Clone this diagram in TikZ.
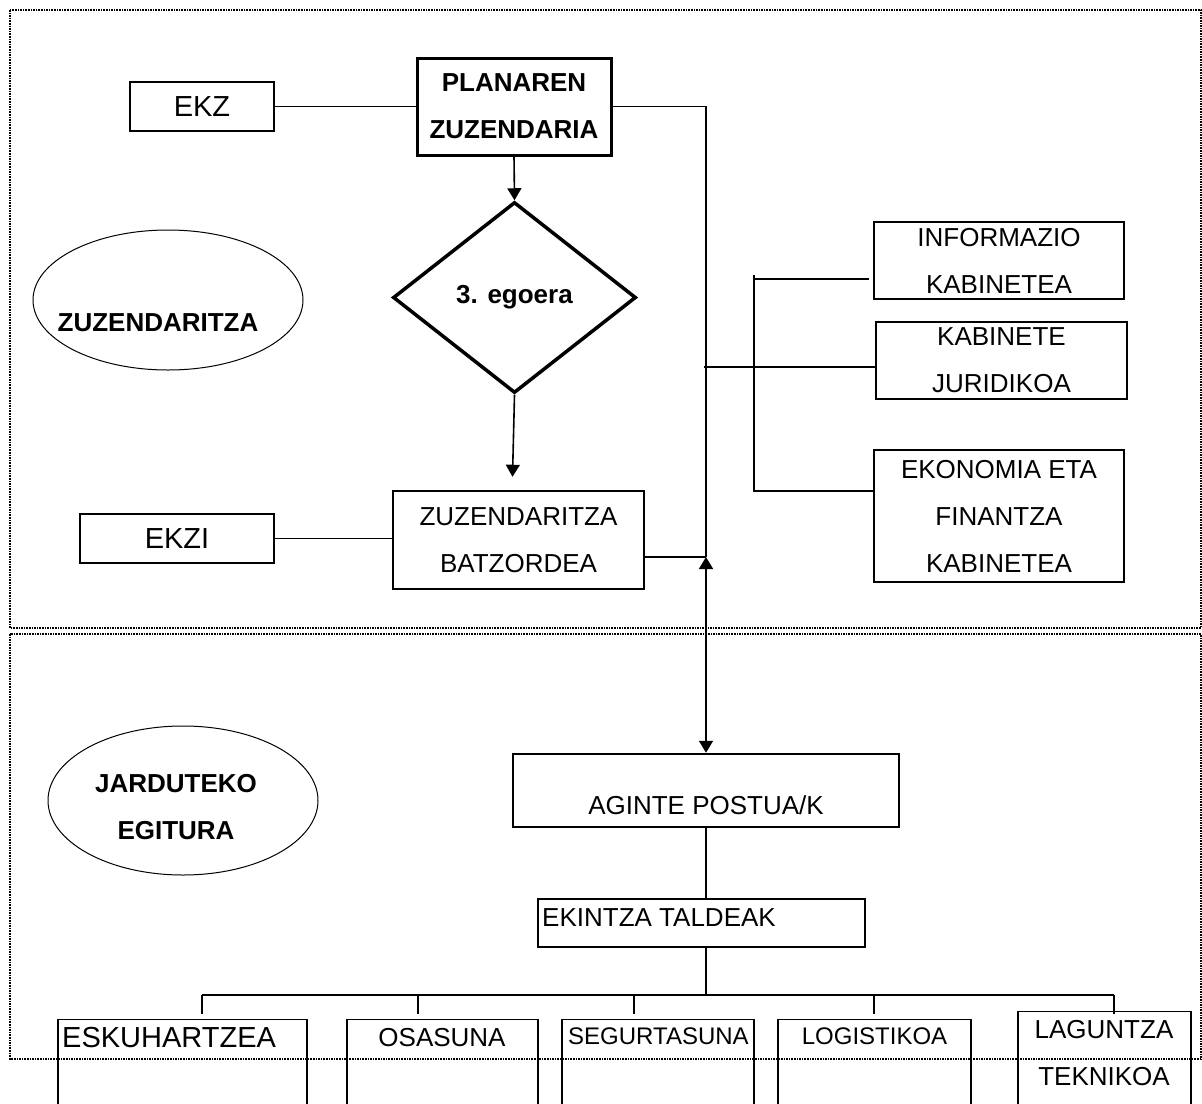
\documentclass[tikz,border=0pt]{standalone}
\usepackage{fontspec}
\setmainfont{Liberation Sans}
\usetikzlibrary{arrows.meta,shapes.geometric}
\tikzset{
	box/.style={draw, line width=1.1pt, inner sep=0pt, align=center, font=\fontsize{26}{47}\selectfont},
	heavybox/.style={box, line width=3pt},
	oval/.style={draw, ellipse, line width=1pt, inner sep=0pt},
	lbl/.style={inner sep=0pt, align=center, font=\fontsize{26}{47}\selectfont},
	link/.style={line width=1.1pt},
	flow/.style={line width=1.6pt, -{Triangle[length=12pt,width=14pt]}},
	frame/.style={densely dotted, line width=1.6pt}
}

\begin{document}
\begin{tikzpicture}[x=1pt, y=-1pt]
	\clip (0,0) rectangle (1202,1103);
	\draw[frame] (10,10) rectangle (1201,628);
	\draw[frame] (10,634) rectangle (1201,1059);
	
	% zuzendaritza
	\node[box, minimum width=144pt, minimum height=49pt, font=\fontsize{29}{47}\selectfont] at (202,106.5) (ekz) {EKZ};
	\node[heavybox, minimum width=194pt, minimum height=97pt, font=\bfseries\fontsize{26}{47}\selectfont] at (514,106.5) (planaren) {PLANAREN\\ZUZENDARIA};
	\node[draw, diamond, line width=3.5pt, minimum width=243pt, minimum height=191pt, inner sep=0pt, font=\bfseries\fontsize{26}{47}\selectfont] at (514.5,297.5) (egoera) {3. egoera};
	\node[box, line width=2.5pt, minimum width=251pt, minimum height=98pt] at (518.5,540) (batzordea) {ZUZENDARITZA\\BATZORDEA};
	\node[box, minimum width=194pt, minimum height=49pt, font=\fontsize{29}{47}\selectfont] at (177,538.5) (ekzi) {EKZI};
	\node[box, minimum width=250pt, minimum height=77pt] at (999,260.5) (informazio) {INFORMAZIO\\KABINETEA};
	\node[box, minimum width=251pt, minimum height=77pt] at (1001.5,360.5) (juridikoa) {KABINETE\\JURIDIKOA};
	\node[box, minimum width=250pt, minimum height=132pt] at (999,516) (ekonomia) {EKONOMIA ETA\\FINANTZA\\KABINETEA};
	\node[oval, minimum width=270pt, minimum height=140pt] at (168,300) (zuzoval) {};
	\node[lbl, font=\bfseries\fontsize{26}{47}\selectfont] at (158,323) (zuztext) {ZUZENDARITZA};
	
	\coordinate (spine) at (706,557);
	\coordinate (tap) at (704,367);
	\coordinate (branchtop) at (754,275);
	\coordinate (infotap) at (754,279);
	\coordinate (branchbot) at (754,491);
	
	\draw[link] (ekz.east) -- (planaren.west);
	\draw[link] (planaren.east) -| (spine);
	\draw[link] (spine -| batzordea.east) -- (spine);
	\draw[link] (ekzi.east) -- (ekzi.east -| batzordea.west);
	\draw[flow] (planaren.south) -- (egoera.north);
	\draw[flow] (egoera.south) -- ([xshift=-6pt,yshift=13pt]batzordea.north);
	\draw[link] (tap) -- (tap -| juridikoa.west);
	\draw[link] (branchtop) -- (branchbot) -- (branchbot -| ekonomia.west);
	\draw[link] (infotap) -- ([xshift=-4pt]informazio.west |- infotap);
	
	% jarduteko egitura
	\node[oval, minimum width=270pt, minimum height=149pt] at (183,800.5) (jardoval) {};
	\node[lbl, font=\bfseries\fontsize{26}{47}\selectfont] at (176,807.5) (jardtext) {JARDUTEKO\\EGITURA};
	\node[box, line width=2.5pt, minimum width=386pt, minimum height=73pt] at (706,790.5) (aginte) {};
	\node[lbl] at (706,805) (agintetext) {AGINTE POSTUA/K};
	\node[box, minimum width=327pt, minimum height=48pt] at (701.5,923) (ekintza) {};
	\node[lbl, anchor=west] at (542,918) (ekintzatext) {EKINTZA TALDEAK};
	
	\draw[flow, {Triangle[length=12pt,width=14pt]}-{Triangle[length=12pt,width=14pt]}] (spine) -- (spine |- aginte.north);
	\draw[link] (aginte.south) -- (aginte.south |- ekintza.north);
	
	\coordinate (busL) at (202,995);
	\coordinate (busM) at (706,995);
	\coordinate (busR) at (1114,995);
	\draw[line width=2pt] (aginte.south |- ekintza.south) -- (busM);
	\draw[link] (busL) -- (busR);
	\draw[link] (busL) -- ++(0,19);
	\draw[link] (418,995) -- ++(0,19);
	\draw[link] (634,995) -- ++(0,19);
	\draw[link] (874,995) -- ++(0,19);
	\draw[link] (busR) -- ++(0,19);
	
	% taldeak
	\node[box, anchor=north, minimum width=249pt, minimum height=100pt] at (182.5,1019) (eskuhartzea) {};
	\node[lbl, anchor=west, font=\fontsize{29}{47}\selectfont] at (62,1038) (eskutext) {ESKUHARTZEA};
	\node[box, anchor=north, minimum width=191pt, minimum height=100pt] at (442.5,1019) (osasuna) {};
	\node[lbl] at (442,1038) (osatext) {OSASUNA};
	\node[box, anchor=north, minimum width=192pt, minimum height=100pt] at (658,1019) (segurtasuna) {};
	\node[lbl, anchor=west, font=\fontsize{24}{47}\selectfont] at (568,1036) (segurtext) {SEGURTASUNA};
	\node[box, anchor=north, minimum width=193pt, minimum height=100pt] at (874.5,1019) (logistikoa) {};
	\node[lbl, font=\fontsize{24}{47}\selectfont] at (874.5,1036) (logitext) {LOGISTIKOA};
	\node[box, anchor=north, minimum width=173pt, minimum height=108pt] at (1104.5,1011) (laguntza) {};
	\node[lbl] at (1104,1053.5) (laguntext) {LAGUNTZA\\TEKNIKOA};
\end{tikzpicture}
\end{document}
